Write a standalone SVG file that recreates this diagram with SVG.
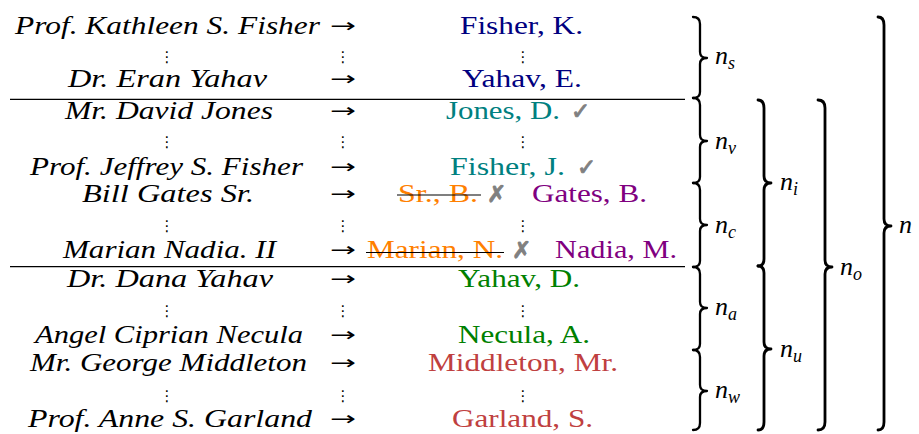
<svg xmlns="http://www.w3.org/2000/svg" width="919" height="434" viewBox="0 0 919 434">
  <style>
    .src { font-family: "Liberation Serif", "Times New Roman", serif; font-style: italic; font-size: 25px; fill: #000; }
    .out { font-family: "Liberation Serif", "Times New Roman", serif; font-size: 25px; }
    .arr { font-family: "DejaVu Sans", sans-serif; font-size: 19px; fill: #000; }
    .dots { font-family: "DejaVu Sans", sans-serif; font-size: 15px; fill: #000; text-anchor: middle; }
    .mark { font-family: "DejaVu Sans", sans-serif; font-size: 23px; fill: #808080; stroke: #808080; stroke-width: 0.9; }
    .navy { fill: #000080; }
    .teal { fill: #008080; }
    .orange { fill: #ff8000; }
    .purple { fill: #800080; }
    .green { fill: #008000; }
    .brick { fill: #bf4040; }
    .rule { stroke: #000; stroke-width: 1.2; fill: none; }
    .strike { stroke: #000; stroke-width: 1.2; }
    .brace { stroke: #000; fill: none; stroke-width: 2.3; stroke-linecap: round; stroke-linejoin: round; }
    .brace.big { stroke-width: 2.8; }
    .lab { font-family: "Liberation Serif", "Times New Roman", serif; font-style: italic; font-size: 26px; fill: #000; }
    .sub { font-size: 18px; }
  </style>

  <!-- group separators -->
  <g id="rules">
    <line class="rule" x1="10" y1="99.3" x2="685" y2="99.3"/>
    <line class="rule" x1="10" y1="266.7" x2="685" y2="266.7"/>
  </g>

  <!-- name mappings: source name, arrow, normalised name -->
  <g id="row-kfisher">
    <text class="src" x="15" y="34" textLength="305" lengthAdjust="spacingAndGlyphs">Prof. Kathleen S. Fisher</text>
    <text class="arr" x="330" y="32" textLength="26" lengthAdjust="spacingAndGlyphs">→</text>
    <text class="out navy" x="460" y="34" textLength="123" lengthAdjust="spacingAndGlyphs">Fisher, K.</text>
  </g>
  <g id="dots-1">
    <text class="dots" x="167" y="62">⋮</text>
    <text class="dots" x="343" y="62">⋮</text>
    <text class="dots" x="523" y="62">⋮</text>
  </g>
  <g id="row-eyahav">
    <text class="src" x="68" y="87" textLength="199" lengthAdjust="spacingAndGlyphs">Dr. Eran Yahav</text>
    <text class="arr" x="330" y="85" textLength="26" lengthAdjust="spacingAndGlyphs">→</text>
    <text class="out navy" x="462" y="87" textLength="120" lengthAdjust="spacingAndGlyphs">Yahav, E.</text>
  </g>

  <g id="row-djones">
    <text class="src" x="65" y="119" textLength="208" lengthAdjust="spacingAndGlyphs">Mr. David Jones</text>
    <text class="arr" x="330" y="117" textLength="26" lengthAdjust="spacingAndGlyphs">→</text>
    <text class="out teal" x="446" y="119" textLength="114" lengthAdjust="spacingAndGlyphs">Jones, D.</text>
    <text class="mark" x="571" y="119">✓</text>
  </g>
  <g id="dots-2">
    <text class="dots" x="167" y="147">⋮</text>
    <text class="dots" x="343" y="147">⋮</text>
    <text class="dots" x="523" y="147">⋮</text>
  </g>
  <g id="row-jfisher">
    <text class="src" x="30" y="175" textLength="273" lengthAdjust="spacingAndGlyphs">Prof. Jeffrey S. Fisher</text>
    <text class="arr" x="330" y="173" textLength="26" lengthAdjust="spacingAndGlyphs">→</text>
    <text class="out teal" x="450" y="175" textLength="115" lengthAdjust="spacingAndGlyphs">Fisher, J.</text>
    <text class="mark" x="577" y="175">✓</text>
  </g>
  <g id="row-bgates">
    <text class="src" x="82" y="202" textLength="172" lengthAdjust="spacingAndGlyphs">Bill Gates Sr.</text>
    <text class="arr" x="330" y="200" textLength="26" lengthAdjust="spacingAndGlyphs">→</text>
    <text class="out orange" x="398" y="202" textLength="80" lengthAdjust="spacingAndGlyphs">Sr., B.</text>
    <line class="strike" x1="397" y1="195" x2="481" y2="195"/>
    <text class="mark" x="487" y="202">✗</text>
    <text class="out purple" x="532" y="202" textLength="115" lengthAdjust="spacingAndGlyphs">Gates, B.</text>
  </g>
  <g id="dots-3">
    <text class="dots" x="167" y="231">⋮</text>
    <text class="dots" x="343" y="231">⋮</text>
    <text class="dots" x="523" y="231">⋮</text>
  </g>
  <g id="row-mnadia">
    <text class="src" x="63" y="258" textLength="213" lengthAdjust="spacingAndGlyphs">Marian Nadia. II</text>
    <text class="arr" x="330" y="256" textLength="26" lengthAdjust="spacingAndGlyphs">→</text>
    <text class="out orange" x="367" y="258" textLength="136" lengthAdjust="spacingAndGlyphs">Marian, N.</text>
    <line class="strike" x1="366" y1="252.5" x2="504" y2="252.5"/>
    <text class="mark" x="512" y="258">✗</text>
    <text class="out purple" x="555" y="258" textLength="122" lengthAdjust="spacingAndGlyphs">Nadia, M.</text>
  </g>

  <g id="row-dyahav">
    <text class="src" x="67" y="287" textLength="206" lengthAdjust="spacingAndGlyphs">Dr. Dana Yahav</text>
    <text class="arr" x="330" y="285" textLength="26" lengthAdjust="spacingAndGlyphs">→</text>
    <text class="out green" x="458" y="287" textLength="122" lengthAdjust="spacingAndGlyphs">Yahav, D.</text>
  </g>
  <g id="dots-4">
    <text class="dots" x="167" y="316">⋮</text>
    <text class="dots" x="343" y="316">⋮</text>
    <text class="dots" x="523" y="316">⋮</text>
  </g>
  <g id="row-anecula">
    <text class="src" x="35" y="343" textLength="268" lengthAdjust="spacingAndGlyphs">Angel Ciprian Necula</text>
    <text class="arr" x="330" y="341" textLength="26" lengthAdjust="spacingAndGlyphs">→</text>
    <text class="out green" x="458" y="343" textLength="132" lengthAdjust="spacingAndGlyphs">Necula, A.</text>
  </g>
  <g id="row-gmiddleton">
    <text class="src" x="30" y="371" textLength="277" lengthAdjust="spacingAndGlyphs">Mr. George Middleton</text>
    <text class="arr" x="330" y="369" textLength="26" lengthAdjust="spacingAndGlyphs">→</text>
    <text class="out brick" x="428" y="371" textLength="190" lengthAdjust="spacingAndGlyphs">Middleton, Mr.</text>
  </g>
  <g id="dots-5">
    <text class="dots" x="167" y="401">⋮</text>
    <text class="dots" x="343" y="401">⋮</text>
    <text class="dots" x="523" y="401">⋮</text>
  </g>
  <g id="row-agarland">
    <text class="src" x="28" y="427" textLength="284" lengthAdjust="spacingAndGlyphs">Prof. Anne S. Garland</text>
    <text class="arr" x="330" y="425" textLength="26" lengthAdjust="spacingAndGlyphs">→</text>
    <text class="out brick" x="452" y="427" textLength="141" lengthAdjust="spacingAndGlyphs">Garland, S.</text>
  </g>

  <!-- braces grouping the rows into counts -->
  <g id="braces">
    <path class="brace" d="M693 17 Q700 17 700 24 L700 52 Q700 58 707 58 Q700 58 700 64 L700 92 Q700 98 693 98"/>
    <path class="brace" d="M693 98 Q700 98 700 105 L700 135 Q700 141 707 141 Q700 141 700 147 L700 177 Q700 183 693 183"/>
    <path class="brace" d="M693 183 Q700 183 700 190 L700 219 Q700 225 707 225 Q700 225 700 231 L700 261 Q700 267 693 267"/>
    <path class="brace" d="M693 267 Q700 267 700 274 L700 302 Q700 308 707 308 Q700 308 700 314 L700 344 Q700 350 693 350"/>
    <path class="brace" d="M693 350 Q700 350 700 357 L700 385 Q700 391 707 391 Q700 391 700 397 L700 423 Q700 430 693 430"/>

    <path class="brace big" d="M758 100 Q764 100 764 108 L764 176 Q764 183 771 183 Q764 183 764 190 L764 259 Q764 266 758 266"/>
    <path class="brace big" d="M758 266 Q764 266 764 273 L764 342 Q764 349 771 349 Q764 349 764 356 L764 422 Q764 430 758 430"/>

    <path class="brace big" d="M818 100 Q825 100 825 108 L825 260 Q825 267 832 267 Q825 267 825 274 L825 422 Q825 430 818 430"/>

    <path class="brace big" d="M878 17 Q884 17 884 25 L884 219 Q884 226 891 226 Q884 226 884 233 L884 422 Q884 430 878 430"/>
  </g>

  <!-- count labels -->
  <g id="label-ns"><text class="lab" x="715" y="64">n<tspan class="sub" dy="5">s</tspan></text></g>
  <g id="label-nv"><text class="lab" x="715" y="149">n<tspan class="sub" dy="5">v</tspan></text></g>
  <g id="label-nc"><text class="lab" x="715" y="233">n<tspan class="sub" dy="5">c</tspan></text></g>
  <g id="label-na"><text class="lab" x="715" y="315">n<tspan class="sub" dy="5">a</tspan></text></g>
  <g id="label-nw"><text class="lab" x="715" y="398">n<tspan class="sub" dy="5">w</tspan></text></g>
  <g id="label-ni"><text class="lab" x="780" y="190">n<tspan class="sub" dy="5">i</tspan></text></g>
  <g id="label-nu"><text class="lab" x="780" y="357">n<tspan class="sub" dy="5">u</tspan></text></g>
  <g id="label-no"><text class="lab" x="840" y="275">n<tspan class="sub" dy="5">o</tspan></text></g>
  <g id="label-n"><text class="lab" x="899" y="233">n</text></g>
</svg>
